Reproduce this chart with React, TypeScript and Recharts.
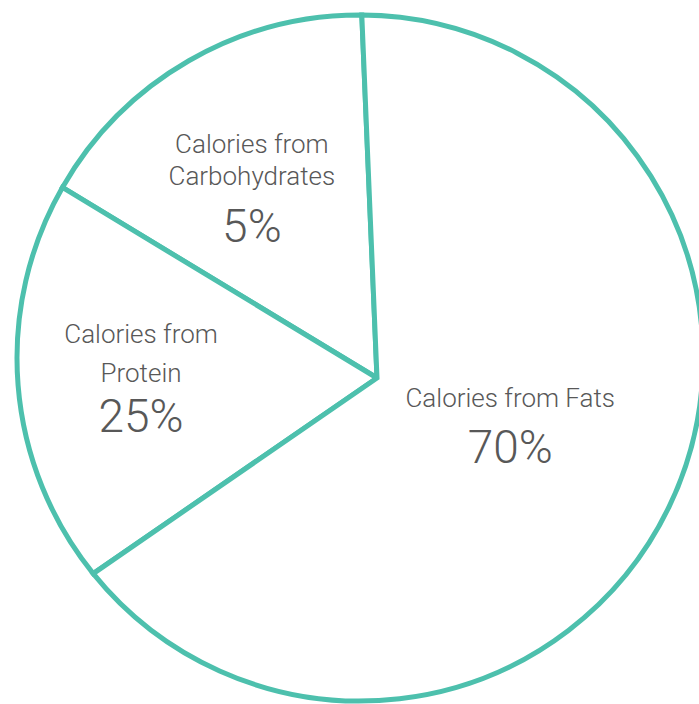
import { Pie, PieChart } from "recharts";

const names = ["Carbohydrates", "Protein", "Fats"];
const sliceValues = [16.8, 19.1, 64.1];
const labelLines = [["Calories from", "Carbohydrates"], ["Calories from", "Protein"], ["Calories from Fats"]];
const percentLabels = ["5%", "25%", "70%"];

const data = names.map((name, i) => ({ name, value: sliceValues[i] }));

const TEAL = "#4dc0ad";
const TEXT = "#585858";
const RADIAN = Math.PI / 180;
// the slices meet a little below-right of the circle centre
const APEX = { dx: 17, dy: 20 };

// label placement: fraction of outer radius, angle nudge, line baselines
const labelStyle = [
  { r: 0.586, nudge: 2.6, lines: [-35.5, -3.5], pct: 53.5 },
  { r: 0.641, nudge: 0.7, lines: [-35.5, 3.5], pct: 53.5 },
  { r: 0.481, nudge: 1.3, lines: [-19], pct: 37 },
];

const polar = (cx: number, cy: number, r: number, a: number) => ({
  x: cx + r * Math.cos(-a * RADIAN),
  y: cy + r * Math.sin(-a * RADIAN),
});

const SliceShape = (props: any) => {
  const { cx, cy, outerRadius, startAngle, endAngle } = props;
  const ax = cx + APEX.dx;
  const ay = cy + APEX.dy;
  const s = polar(cx, cy, outerRadius, startAngle);
  const e = polar(cx, cy, outerRadius, endAngle);
  const large = Math.abs(endAngle - startAngle) > 180 ? 1 : 0;
  const sweep = endAngle > startAngle ? 0 : 1;
  const d = `M${ax},${ay}L${s.x},${s.y}A${outerRadius},${outerRadius},0,${large},${sweep},${e.x},${e.y}Z`;
  return <path d={d} fill="#fff" stroke={TEAL} strokeWidth={5} strokeLinejoin="miter" />;
};

const SliceLabel = (props: any) => {
  const { cx, cy, midAngle, outerRadius, index } = props;
  const st = labelStyle[index];
  const p = polar(cx, cy, outerRadius * st.r, midAngle + st.nudge);
  return (
    <g>
      <text textAnchor="middle" fill={TEXT} fontFamily="Roboto" fontWeight={300} fontSize={26}>
        {labelLines[index].map((line, j) => (
          <tspan key={j} x={p.x} y={p.y + st.lines[j]}>
            {line}
          </tspan>
        ))}
      </text>
      <text
        x={p.x}
        y={p.y + st.pct}
        textAnchor="middle"
        fill={TEXT}
        fontFamily="Roboto"
        fontWeight={300}
        fontSize={46}
      >
        {percentLabels[index]}
      </text>
    </g>
  );
};

export default function App() {
  return (
    <div
      style={{
        position: "fixed",
        left: 0,
        top: 0,
        width: 699,
        height: 704,
        overflow: "hidden",
        background: "#fff",
      }}
    >
      <PieChart width={699} height={704} margin={{ top: 0, right: 0, bottom: 0, left: 0 }}>
        <Pie
          data={data}
          dataKey="value"
          nameKey="name"
          cx={360}
          cy={358}
          outerRadius={343}
          startAngle={89.7}
          endAngle={449.7}
          fill="#fff"
          stroke={TEAL}
          strokeWidth={5}
          shape={SliceShape}
          label={SliceLabel}
          labelLine={false}
          isAnimationActive={false}
        />
      </PieChart>
    </div>
  );
}
